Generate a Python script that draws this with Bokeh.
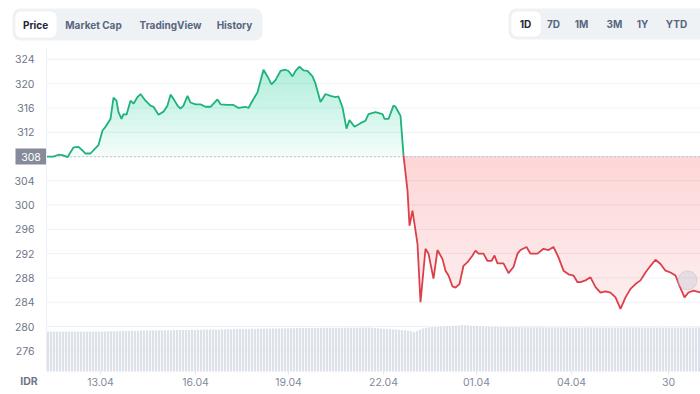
import numpy as np
from bokeh.plotting import figure
from bokeh.models import (Range1d, FixedTicker, BoxAnnotation, LinearAxis)
from bokeh.layouts import column
from bokeh.core.properties import value
from bokeh.embed import file_html
from bokeh.resources import INLINE

# ---------------- data ----------------
BASE = 308  # opening price (reference line)

# time position of each sample (chart time units) and price in IDR
t = [0, 7, 12, 17, 21, 24, 27, 32, 36, 39, 44, 49, 52, 56, 59, 64, 67, 70, 72, 75,
     77, 80, 84, 87, 91, 94, 99, 104, 107, 112, 117, 121, 124, 127, 131, 134, 137, 141, 144, 149,
     154, 159, 164, 167, 171, 174, 181, 187, 192, 199, 202, 206, 211, 217, 221, 225, 229, 234, 239, 242,
     246, 249, 253, 257, 261, 266, 269, 274, 279, 284, 289, 292, 296, 300, 303, 308, 314, 319, 322, 329,
     336, 338, 342, 347, 349, 352, 354, 357,
     361, 363, 366, 369, 371, 374, 379, 382, 387, 391, 396, 399, 402, 406, 409, 413, 417, 421, 426, 429,
     432, 437, 441, 445, 448, 451, 457, 462, 467, 471, 474, 480, 484, 491, 497, 502, 507, 512, 517, 522,
     527, 531, 534, 539, 544, 549, 554, 559, 564, 569, 574, 579, 584, 589, 594, 599, 604, 609, 614, 619,
     624, 629, 633, 638, 642, 647, 654]
price = [308.0, 308.0, 308.3, 308.2, 307.9, 308.7, 309.5, 309.6, 309.0, 308.5, 308.5, 309.4, 309.9, 312.3, 312.9, 314.2, 317.7, 317.2, 315.3, 314.2,
         315.0, 314.9, 317.2, 316.7, 317.8, 318.3, 317.2, 316.4, 316.2, 314.9, 315.4, 316.4, 318.2, 317.5, 316.4, 315.9, 316.4, 318.0, 316.9, 316.6,
         316.6, 316.2, 316.2, 316.7, 317.4, 316.6, 316.5, 316.5, 316.0, 316.2, 316.0, 317.2, 318.6, 322.3, 321.2, 319.9, 320.6, 322.1, 322.3, 322.1,
         321.2, 322.1, 322.8, 322.2, 322.1, 321.2, 320.0, 317.0, 318.3, 318.0, 317.8, 317.9, 316.1, 312.6, 314.0, 312.9, 313.5, 313.9, 315.0, 315.3,
         315.0, 314.2, 314.2, 316.4, 316.2, 315.3, 314.7, 308.2,
         302.4, 296.6, 299.1, 295.8, 293.6, 284.0, 292.8, 292.0, 287.9, 292.6, 291.1, 289.2, 288.4, 286.6, 286.4, 287.0, 290.0, 290.6, 291.7, 292.5,
         292.0, 292.0, 290.8, 290.8, 291.7, 290.4, 290.4, 288.8, 289.8, 292.0, 292.6, 293.1, 292.0, 292.0, 292.8, 292.6, 293.1, 291.4, 289.2, 288.6,
         288.4, 287.3, 287.3, 287.6, 288.1, 286.5, 285.6, 285.8, 285.6, 284.8, 282.9, 284.8, 286.2, 287.0, 287.6, 288.9, 290.0, 291.0, 290.3, 289.2,
         288.9, 288.4, 286.7, 284.8, 285.6, 285.9, 285.6]

# volume (billion IDR), one bar per interval
volume = [4.00, 4.01, 3.99, 4.00, 4.00, 4.01, 4.00, 3.99, 4.00, 4.00, 4.01, 4.00, 4.00, 3.99, 4.00, 4.01, 4.00, 4.00, 4.00, 4.01,
          4.02, 4.02, 4.03, 4.03, 4.04, 4.05, 4.05, 4.06,
          4.07, 4.08, 4.08, 4.09, 4.10, 4.10, 4.10, 4.11, 4.11, 4.12, 4.12, 4.12, 4.13, 4.13, 4.14, 4.14, 4.15, 4.15, 4.16, 4.16,
          4.17, 4.17, 4.18, 4.18,
          4.19, 4.19, 4.20, 4.20, 4.21, 4.21, 4.22, 4.22, 4.23, 4.23, 4.24, 4.24, 4.25, 4.25, 4.26, 4.26, 4.27, 4.27, 4.28, 4.28,
          4.29, 4.29, 4.30, 4.30, 4.31, 4.31,
          4.32, 4.32, 4.33, 4.33, 4.34, 4.34, 4.34, 4.35, 4.35, 4.35, 4.36, 4.36, 4.36, 4.36, 4.37, 4.37, 4.37, 4.37, 4.38, 4.38,
          4.38, 4.38, 4.38, 4.38, 4.38, 4.39, 4.39, 4.39, 4.39, 4.39, 4.38, 4.36, 4.33, 4.30,
          4.28, 4.26, 4.24, 4.22, 4.20, 4.18, 4.15, 4.12, 4.08, 4.02, 3.95,
          4.05, 4.18, 4.30, 4.38, 4.42, 4.44, 4.46, 4.47, 4.48, 4.50, 4.52, 4.54, 4.56,
          4.58, 4.60, 4.62, 4.62, 4.60, 4.58, 4.56, 4.54, 4.52, 4.50, 4.48, 4.47,
          4.46, 4.46, 4.45, 4.45, 4.45, 4.44, 4.44, 4.44, 4.44, 4.43, 4.43, 4.43, 4.43, 4.42, 4.42, 4.42, 4.42, 4.42, 4.41, 4.41,
          4.41, 4.41, 4.41, 4.41, 4.40, 4.40, 4.40, 4.40, 4.40, 4.40, 4.40, 4.40, 4.41, 4.41, 4.41, 4.41, 4.40, 4.40, 4.40, 4.40,
          4.40, 4.40, 4.40, 4.40, 4.41, 4.41, 4.41, 4.41, 4.40, 4.40, 4.40, 4.40, 4.40, 4.40, 4.40, 4.40, 4.40, 4.40, 4.40, 4.40,
          4.40, 4.40, 4.40, 4.40, 4.40, 4.40, 4.40, 4.40, 4.40, 4.40]
vol_t = [1.5 + 3 * i for i in range(len(volume))]

tick_pos = [54, 149, 242, 337, 430, 525, 622]
tick_labels = ["13.04", "16.04", "19.04", "22.04", "01.04", "04.04", "30"]
y_ticks = [276, 280, 284, 288, 292, 296, 300, 304, 308, 312, 316, 320, 324]
currency = "IDR"

tabs_left = ["Price", "Market Cap", "TradingView", "History"]
tabs_left_x = [35, 93, 170, 234]
tabs_right = ["1D", "7D", "1M", "3M", "1Y", "YTD"]
tabs_right_x = [525, 553, 581, 614, 642, 676]

hover_t, hover_p = 641, 287.6

FONT = "Inter"
GREEN = "#1eb37a"
RED = "#dc3f49"

# chart extents
T0, T1 = 0, 654          # time span of the data
GUTTER = -46             # space left of the chart for the price scale
P_LO, P_HI = 272.6, 325.8  # price span of the chart area
P_BOTTOM = 268.8         # lower end including the time labels row

# ---------------- top tab bar ----------------
top = figure(width=700, height=48, x_range=Range1d(0, 700), y_range=Range1d(48, 0),
             output_backend="svg", toolbar_location=None, min_border=0,
             x_axis_location=None, y_axis_location=None)
top.grid.visible = False
top.outline_line_color = None
top.background_fill_color = "white"
top.border_fill_color = "white"

for l, r, tp, bt, col, rad in [(12, 262, 8, 40, "#eff2f5", 8), (15, 56, 11, 37, "white", 6),
                               (508, 720, 8, 39, "#eff2f5", 8), (511, 540, 11, 36, "white", 6)]:
    top.add_layout(BoxAnnotation(left=l, right=r, top=tp, bottom=bt, fill_color=col,
                                 fill_alpha=1, line_color=None, border_radius=rad,
                                 level="underlay"))

lcol = ["#222531"] + ["#58667e"] * (len(tabs_left) - 1)
top.text(x=tabs_left_x, y=[24] * len(tabs_left), text=tabs_left, text_align="center",
         text_baseline="middle", text_font=value(FONT), text_font_size="10px",
         text_font_style="bold", text_color=lcol)
rcol = ["#222531"] + ["#58667e"] * (len(tabs_right) - 1)
top.text(x=tabs_right_x, y=[23.5] * len(tabs_right), text=tabs_right, text_align="center",
         text_baseline="middle", text_font=value(FONT), text_font_size="10px",
         text_font_style="bold", text_color=rcol)

# ---------------- main chart ----------------
p = figure(width=700, height=346, x_range=Range1d(GUTTER, T1), y_range=Range1d(P_BOTTOM, P_HI),
           output_backend="svg", toolbar_location=None, min_border=0,
           x_axis_location=None, y_axis_location=None)
p.outline_line_color = None
p.grid.visible = False

yax = LinearAxis(ticker=FixedTicker(ticks=y_ticks), fixed_location=T0, bounds=(P_LO, P_HI))
yax.major_label_overrides = {BASE: ""}
yax.major_tick_line_color = None
yax.minor_tick_line_color = None
yax.axis_line_color = "#eceff3"
yax.major_label_text_font = FONT
yax.major_label_text_font_size = "10.5px"
yax.major_label_text_color = "#6e7789"
yax.major_label_standoff = 6
p.add_layout(yax, "left")

xax = LinearAxis(ticker=FixedTicker(ticks=tick_pos), fixed_location=P_LO)
xax.major_label_overrides = {tp: lab for tp, lab in zip(tick_pos, tick_labels)}
xax.major_tick_in = 0
xax.major_tick_out = 3
xax.major_tick_line_color = "#dfe3ea"
xax.minor_tick_line_color = None
xax.axis_line_color = None
xax.major_label_text_font = FONT
xax.major_label_text_font_size = "10.5px"
xax.major_label_text_color = "#808a9d"
xax.major_label_standoff = 4
p.add_layout(xax, "below")

# horizontal grid lines over the chart area only
p.segment(x0=[T0] * len(y_ticks), x1=[T1] * len(y_ticks), y0=y_ticks, y1=y_ticks,
          line_color="#eff2f5", line_width=1)

# volume on hidden secondary range (zero at the bottom of the chart area)
p.extra_y_ranges = {"vol": Range1d(-2.3, 32.3)}
p.vbar(x=vol_t, top=volume, width=2.2, bottom=0, y_range_name="vol",
       fill_color="#dde1e9", line_color=None)

x = np.array(t, dtype=float)
y = np.array(price, dtype=float)

# green gradient fill (above opening price)
p.varea(x=x, y1=np.full_like(y, BASE), y2=np.maximum(y, BASE), fill_color="#16c784", fill_alpha=0.05)
for L in range(BASE + 1, 324):
    p.varea(x=x, y1=np.full_like(y, L), y2=np.maximum(y, L), fill_color="#16c784", fill_alpha=0.018)

# red gradient fill (below opening price)
p.varea(x=x, y1=np.minimum(y, BASE), y2=np.full_like(y, BASE), fill_color="#ea3943", fill_alpha=0.08)
for L in range(BASE - 2, 283, -2):
    p.varea(x=x, y1=np.minimum(np.maximum(y, L), BASE), y2=np.full_like(y, BASE),
            fill_color="#ea3943", fill_alpha=0.012)

# dotted opening-price line
p.segment(x0=[T0], x1=[T1], y0=[BASE], y1=[BASE], line_color="#a8adb9", line_dash="1 3",
          line_width=1.3)

# split line where price falls below the opening price for good
idx = int(np.where(y >= BASE)[0].max())
p.line(x[:idx + 1], y[:idx + 1], line_color=GREEN, line_width=1.8)
p.line(x[idx:], y[idx:], line_color=RED, line_width=1.8)

p.scatter([hover_t], [hover_p], size=19, fill_color="#c9ccd8", fill_alpha=0.45,
          line_color="#b8bccb", line_alpha=0.5)

# opening price tag on the price scale
p.rect(x=[(GUTTER + 15 + T0) / 2], y=[BASE], width=31, height=16, width_units="screen",
       height_units="screen", fill_color="#868b9c", line_color=None)
p.text(x=[(GUTTER + 15 + T0) / 2], y=[BASE], text=[str(BASE)], text_align="center",
       text_baseline="middle", text_font=value(FONT), text_font_size="10.5px",
       text_color="white")

# currency label in the time-label row
p.text(x=[-17.5], y=[270.94], text=[currency], text_align="center", text_baseline="middle",
       text_font=value(FONT), text_font_size="10.5px", text_font_style="bold",
       text_color="#6e7789")

layout = column(top, p, spacing=0)
open("out.html", "w").write(file_html(layout, INLINE))
